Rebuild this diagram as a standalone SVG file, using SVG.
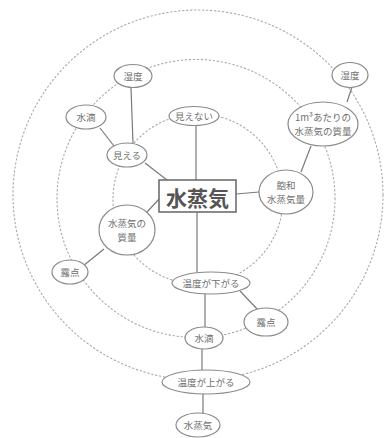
<svg xmlns="http://www.w3.org/2000/svg" width="388" height="438" viewBox="0 0 388 438">
  <style>
    .ring { fill: none; stroke: #a8a8a8; stroke-width: 1.1; stroke-dasharray: 1.4 2.6; stroke-linecap: round; }
    .link { fill: none; stroke: #7a7a7a; stroke-width: 1.2; }
    .node ellipse { fill: #fff; stroke: #8a8a8a; stroke-width: 1.2; }
    .node text { font-family: "Noto Sans CJK JP", "Noto Sans", sans-serif; font-size: 9.5px; fill: #6e6e6e; text-anchor: middle; dominant-baseline: central; }
    .center rect { fill: #fff; stroke: #6e6e6e; stroke-width: 1.6; }
    .center text { font-family: "Noto Sans CJK JP", sans-serif; font-size: 21px; font-weight: bold; fill: #555; text-anchor: middle; dominant-baseline: central; }
  </style>
  <rect width="388" height="438" fill="#fff"/>

  <!-- concentric dotted rings -->
  <g id="rings">
    <circle class="ring" cx="198" cy="195" r="185"/>
    <circle class="ring" cx="196" cy="198.5" r="139"/>
    <circle class="ring" cx="198" cy="199" r="85"/>
  </g>

  <!-- solid connectors -->
  <g id="connectors">
    <line class="link" x1="196" y1="180" x2="196" y2="125"/>
    <line class="link" x1="197" y1="212" x2="197" y2="272"/>
    <line class="link" x1="167" y1="180" x2="145" y2="163"/>
    <line class="link" x1="114" y1="146" x2="100" y2="128"/>
    <line class="link" x1="133" y1="143" x2="131" y2="88"/>
    <line class="link" x1="160" y1="198" x2="147" y2="212"/>
    <line class="link" x1="104" y1="249" x2="83" y2="266"/>
    <line class="link" x1="236" y1="194" x2="259" y2="192"/>
    <line class="link" x1="301" y1="172" x2="311" y2="146"/>
    <line class="link" x1="347" y1="102" x2="352" y2="87"/>
    <line class="link" x1="240" y1="291" x2="258" y2="310"/>
    <line class="link" x1="205" y1="294" x2="205" y2="327"/>
    <line class="link" x1="202" y1="349" x2="202" y2="370"/>
    <line class="link" x1="203" y1="394" x2="203" y2="413"/>
  </g>

  <g id="n-vapor" class="center">
    <rect x="159" y="180" width="77" height="32"/>
    <text x="197.5" y="196.5">水蒸気</text>
  </g>

  <g id="n-invisible" class="node">
    <ellipse cx="194" cy="116" rx="25" ry="9.5"/>
    <text x="194" y="116">見えない</text>
  </g>
  <g id="n-visible" class="node">
    <ellipse cx="127" cy="155" rx="20" ry="12"/>
    <text x="127" y="155">見える</text>
  </g>
  <g id="n-droplet-top" class="node">
    <ellipse cx="86" cy="117" rx="20" ry="12"/>
    <text x="86" y="117">水滴</text>
  </g>
  <g id="n-humidity-left" class="node">
    <ellipse cx="133" cy="76" rx="19" ry="11.5"/>
    <text x="133" y="76">湿度</text>
  </g>
  <g id="n-humidity-right" class="node">
    <ellipse cx="350" cy="75" rx="18" ry="12.5"/>
    <text x="350" y="75">湿度</text>
  </g>
  <g id="n-mass-per-m3" class="node">
    <ellipse cx="323" cy="124" rx="35" ry="22"/>
    <text x="323" y="117">1m³あたりの</text>
    <text x="323" y="131">水蒸気の質量</text>
  </g>
  <g id="n-saturation" class="node">
    <ellipse cx="286" cy="192" rx="27" ry="22"/>
    <text x="286" y="185">飽和</text>
    <text x="286" y="199">水蒸気量</text>
  </g>
  <g id="n-vapor-mass" class="node">
    <ellipse cx="127" cy="230" rx="28" ry="25"/>
    <text x="127" y="223">水蒸気の</text>
    <text x="127" y="237">質量</text>
  </g>
  <g id="n-dewpoint-left" class="node">
    <ellipse cx="70" cy="272" rx="18" ry="12"/>
    <text x="70" y="272">露点</text>
  </g>
  <g id="n-temp-down" class="node">
    <ellipse cx="211" cy="283" rx="39" ry="11"/>
    <text x="211" y="283">温度が下がる</text>
  </g>
  <g id="n-dewpoint-right" class="node">
    <ellipse cx="266" cy="322" rx="22" ry="14"/>
    <text x="266" y="322">露点</text>
  </g>
  <g id="n-droplet-bottom" class="node">
    <ellipse cx="204" cy="338" rx="19" ry="11"/>
    <text x="204" y="338">水滴</text>
  </g>
  <g id="n-temp-up" class="node">
    <ellipse cx="206" cy="382" rx="44" ry="12"/>
    <text x="206" y="382">温度が上がる</text>
  </g>
  <g id="n-vapor-bottom" class="node">
    <ellipse cx="198" cy="425" rx="22" ry="12"/>
    <text x="198" y="425">水蒸気</text>
  </g>
</svg>
